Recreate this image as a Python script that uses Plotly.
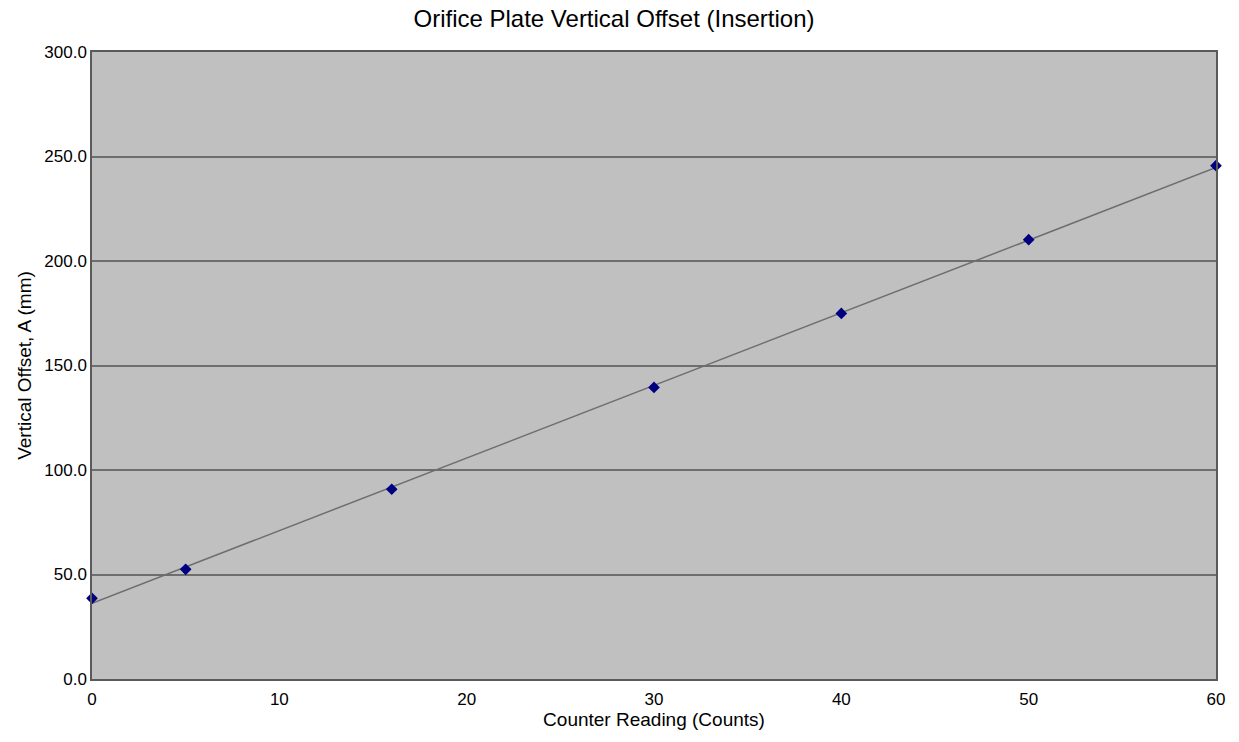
import numpy as np
import plotly.graph_objects as go

counts = [0, 5, 16, 30, 40, 50, 60]
offset_mm = [38.6, 52.5, 90.8, 139.5, 174.9, 210.2, 245.6]

slope, intercept = np.polyfit(counts, offset_mm, 1)
trend_x = [0, 60]
trend_y = [intercept + slope * v for v in trend_x]

fig = go.Figure()
fig.add_trace(go.Scatter(x=trend_x, y=trend_y, mode="lines",
                         line=dict(color="#6e6e6e", width=1.5),
                         showlegend=False, hoverinfo="skip"))
fig.add_trace(go.Scatter(x=counts, y=offset_mm, mode="markers",
                         marker=dict(symbol="diamond", size=9, color="#000080"),
                         showlegend=False, cliponaxis=False))

fig.update_layout(
    width=1239, height=742,
    margin=dict(l=92, r=23, t=52, b=63),
    paper_bgcolor="white", plot_bgcolor="#c0c0c0",
    font=dict(family="Liberation Sans, Arial, sans-serif", size=17, color="#000000"),
    title=dict(text="Orifice Plate Vertical Offset (Insertion)", x=614 / 1239, xref="container",
               xanchor="center", y=1 - 18.5 / 742, yref="container", yanchor="middle",
               font=dict(size=24)),
)
fig.update_xaxes(range=[0, 60], dtick=10, tick0=0, showgrid=False, zeroline=False,
                 showline=True, linecolor="#5a5a5a", linewidth=1.5, mirror=True,
                 ticks="", ticklabelstandoff=4,
                 title=dict(text="Counter Reading (Counts)", standoff=5, font=dict(size=19)))
fig.update_yaxes(range=[0, 300], dtick=50, tick0=0, tickformat=".1f",
                 showgrid=True, gridcolor="#6e6e6e", gridwidth=1.5, zeroline=False,
                 showline=True, linecolor="#5a5a5a", linewidth=1.5, mirror=True,
                 ticks="", title=dict(text="Vertical Offset, A (mm)", standoff=8, font=dict(size=19)))

fig.write_html("out.html", config={"displayModeBar": False},
               post_script="document.body.style.margin='0';document.body.style.padding='0';")
